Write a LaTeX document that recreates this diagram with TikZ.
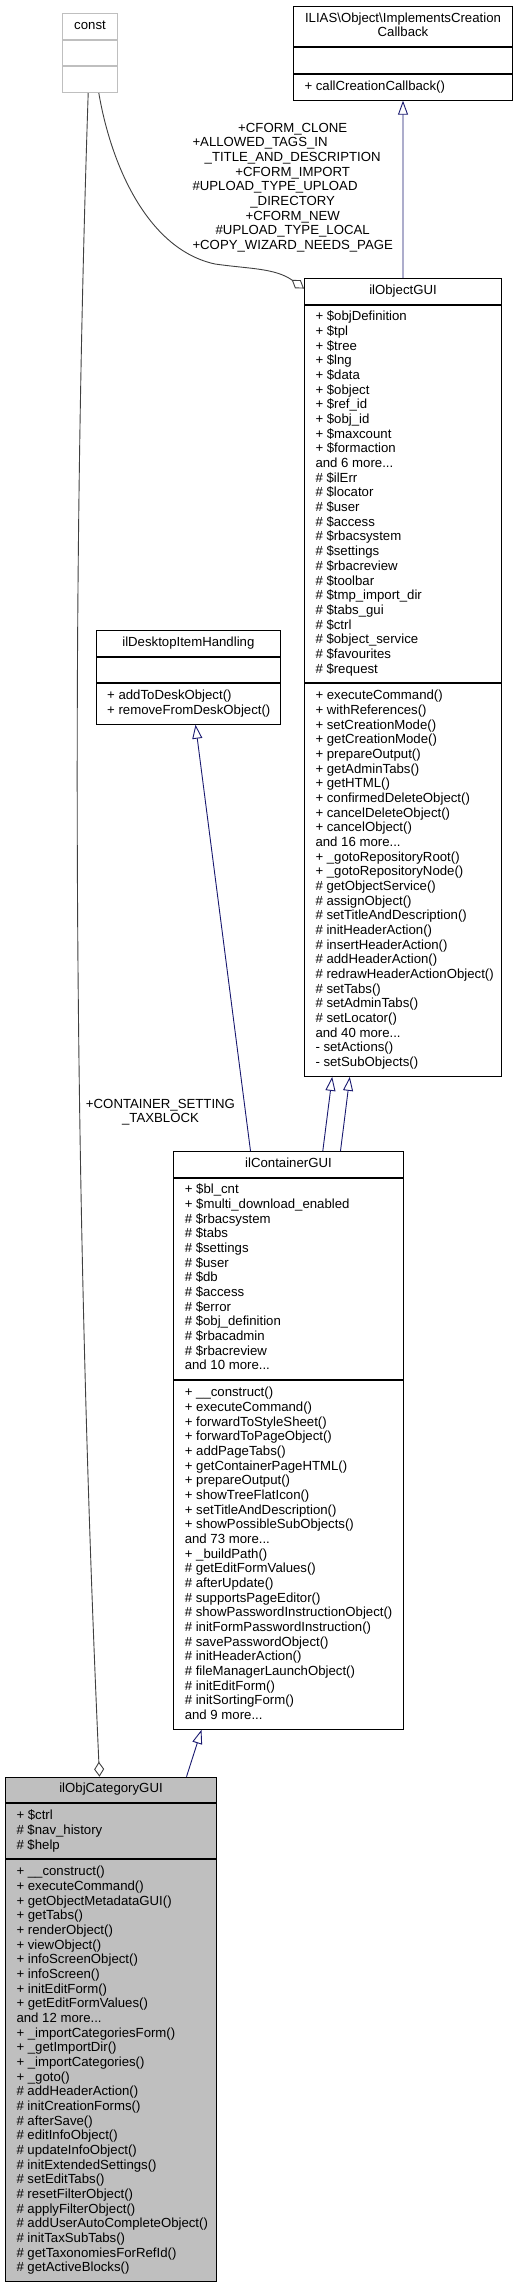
\documentclass[tikz,border=0pt]{standalone}
\usepackage{fontspec}
\setmainfont{Liberation Sans}
\usetikzlibrary{arrows.meta}
\definecolor{navy}{RGB}{25,25,112}
\definecolor{edgegray}{RGB}{64,64,64}
\definecolor{lightg}{RGB}{191,191,191}
\newcommand\lst[2]{\makebox[#1][l]{\begin{tabular}{@{}l@{}}#2\end{tabular}}}
\newcommand\ttl[1]{\begin{tabular}{@{}c@{}}#1\end{tabular}}
\tikzset{
  cls/.style={draw=black, line width=1bp, fill=white, rectangle, inner sep=0pt, anchor=north west},
  inh/.style={draw=navy, line width=0.9bp, -{Triangle[open,length=14bp,width=10bp]}},
  agg/.style={draw=edgegray, line width=0.9bp, -{Diamond[open,length=15bp,width=10bp]}},
  lbl/.style={inner sep=0pt}
}
\begin{document}
\begin{tikzpicture}[x=1bp, y=-1bp, font=\fontsize{13.2bp}{14.67bp}\selectfont]
\fill[white] (0,0) rectangle (517,2284);
\useasboundingbox (0,0) rectangle (517,2284);

% const
\node[cls, draw=lightg, minimum width=55bp, minimum height=25.67bp] (constT) at (62,13) {\ttl{const}};
\node[cls, draw=lightg, minimum width=55bp, minimum height=25.67bp] (constA) at (constT.south west) {};
\node[cls, draw=lightg, minimum width=55bp, minimum height=25.67bp] (constM) at (constA.south west) {};

% ILIAS\Object\ImplementsCreationCallback
\node[cls, minimum width=219bp, minimum height=40.34bp] (iliasT) at (293,6) {\ttl{ILIAS\textbackslash Object\textbackslash ImplementsCreation\\Callback}};
\node[cls, minimum width=219bp, minimum height=25.67bp] (iliasA) at (iliasT.south west) {};
\node[cls, minimum width=219bp, minimum height=25.67bp] (iliasM) at (iliasA.south west) {\lst{197bp}{+ callCreationCallback()}};

% ilObjectGUI
\node[cls, minimum width=197bp, minimum height=25.67bp] (objT) at (304,278) {\ttl{ilObjectGUI}};
\node[cls, minimum width=197bp, minimum height=377.75bp] (objA) at (objT.south west) {\lst{175bp}{%
+ \$objDefinition\\
+ \$tpl\\
+ \$tree\\
+ \$lng\\
+ \$data\\
+ \$object\\
+ \$ref\_id\\
+ \$obj\_id\\
+ \$maxcount\\
+ \$formaction\\
and 6 more...\\
\# \$ilErr\\
\# \$locator\\
\# \$user\\
\# \$access\\
\# \$rbacsystem\\
\# \$settings\\
\# \$rbacreview\\
\# \$toolbar\\
\# \$tmp\_import\_dir\\
\# \$tabs\_gui\\
\# \$ctrl\\
\# \$object\_service\\
\# \$favourites\\
\# \$request}};
\node[cls, minimum width=197bp, minimum height=392.42bp] (objM) at (objA.south west) {\lst{175bp}{%
+ executeCommand()\\
+ withReferences()\\
+ setCreationMode()\\
+ getCreationMode()\\
+ prepareOutput()\\
+ getAdminTabs()\\
+ getHTML()\\
+ confirmedDeleteObject()\\
+ cancelDeleteObject()\\
+ cancelObject()\\
and 16 more...\\
+ \_gotoRepositoryRoot()\\
+ \_gotoRepositoryNode()\\
\# getObjectService()\\
\# assignObject()\\
\# setTitleAndDescription()\\
\# initHeaderAction()\\
\# insertHeaderAction()\\
\# addHeaderAction()\\
\# redrawHeaderActionObject()\\
\# setTabs()\\
\# setAdminTabs()\\
\# setLocator()\\
and 40 more...\\
- setActions()\\
- setSubObjects()}};

% ilDesktopItemHandling
\node[cls, minimum width=184.3bp, minimum height=25.67bp] (deskT) at (95.7,630) {\ttl{ilDesktopItemHandling}};
\node[cls, minimum width=184.3bp, minimum height=25.67bp] (deskA) at (deskT.south west) {};
\node[cls, minimum width=184.3bp, minimum height=40.34bp] (deskM) at (deskA.south west) {\lst{162.3bp}{%
+ addToDeskObject()\\
+ removeFromDeskObject()}};

% ilContainerGUI
\node[cls, minimum width=229.4bp, minimum height=25.67bp] (contT) at (173.3,1151) {\ttl{ilContainerGUI}};
\node[cls, minimum width=229.4bp, minimum height=201.71bp] (contA) at (contT.south west) {\lst{207.4bp}{%
+ \$bl\_cnt\\
+ \$multi\_download\_enabled\\
\# \$rbacsystem\\
\# \$tabs\\
\# \$settings\\
\# \$user\\
\# \$db\\
\# \$access\\
\# \$error\\
\# \$obj\_definition\\
\# \$rbacadmin\\
\# \$rbacreview\\
and 10 more...}};
\node[cls, minimum width=229.4bp, minimum height=348.41bp] (contM) at (contA.south west) {\lst{207.4bp}{%
+ \_\_construct()\\
+ executeCommand()\\
+ forwardToStyleSheet()\\
+ forwardToPageObject()\\
+ addPageTabs()\\
+ getContainerPageHTML()\\
+ prepareOutput()\\
+ showTreeFlatIcon()\\
+ setTitleAndDescription()\\
+ showPossibleSubObjects()\\
and 73 more...\\
+ \_buildPath()\\
\# getEditFormValues()\\
\# afterUpdate()\\
\# supportsPageEditor()\\
\# showPasswordInstructionObject()\\
\# initFormPasswordInstruction()\\
\# savePasswordObject()\\
\# initHeaderAction()\\
\# fileManagerLaunchObject()\\
\# initEditForm()\\
\# initSortingForm()\\
and 9 more...}};

% ilObjCategoryGUI
\node[cls, fill=lightg, minimum width=211bp, minimum height=25.67bp] (catT) at (5,1776.7) {\ttl{ilObjCategoryGUI}};
\node[cls, fill=lightg, minimum width=211bp, minimum height=55.01bp] (catA) at (catT.south west) {\lst{189bp}{%
+ \$ctrl\\
\# \$nav\_history\\
\# \$help}};
\node[cls, fill=lightg, minimum width=211bp, minimum height=421.76bp] (catM) at (catA.south west) {\lst{189bp}{%
+ \_\_construct()\\
+ executeCommand()\\
+ getObjectMetadataGUI()\\
+ getTabs()\\
+ renderObject()\\
+ viewObject()\\
+ infoScreenObject()\\
+ infoScreen()\\
+ initEditForm()\\
+ getEditFormValues()\\
and 12 more...\\
+ \_importCategoriesForm()\\
+ \_getImportDir()\\
+ \_importCategories()\\
+ \_goto()\\
\# addHeaderAction()\\
\# initCreationForms()\\
\# afterSave()\\
\# editInfoObject()\\
\# updateInfoObject()\\
\# initExtendedSettings()\\
\# setEditTabs()\\
\# resetFilterObject()\\
\# applyFilterObject()\\
\# addUserAutoCompleteObject()\\
\# initTaxSubTabs()\\
\# getTaxonomiesForRefId()\\
\# getActiveBlocks()}};

% edge labels
\node[lbl, anchor=north west] (lblObj) at (192.3,121.6) {\begin{tabular}{@{}c@{}}%
+CFORM\_CLONE\\
\multicolumn{1}{@{}l@{}}{+ALLOWED\_TAGS\_IN}\\
\_TITLE\_AND\_DESCRIPTION\\
+CFORM\_IMPORT\\
\multicolumn{1}{@{}l@{}}{\#UPLOAD\_TYPE\_UPLOAD}\\
\_DIRECTORY\\
+CFORM\_NEW\\
\#UPLOAD\_TYPE\_LOCAL\\
+COPY\_WIZARD\_NEEDS\_PAGE\end{tabular}};
\node[lbl, anchor=north] (lblCat) at (160.5,1097.6) {\begin{tabular}{@{}c@{}}+CONTAINER\_SETTING\\\_TAXBLOCK\end{tabular}};

% connectors
\draw[inh] (objT.north) -- (iliasM.south);
\draw[inh] ([xshift=-38bp]contT.north) -- ([xshift=7.15bp]deskM.south);
\draw[inh] ([xshift=34.3bp]contT.north) -- ([xshift=-70.8bp]objM.south);
\draw[inh] ([xshift=52bp]contT.north) -- ([xshift=-53.2bp]objM.south);
\draw[inh] ([xshift=75.5bp]catT.north) -- ([xshift=-87bp]contM.south);
\draw[agg] ([xshift=-1.8bp]constM.south) .. controls (68,700) and (78,1300) .. ([xshift=-11.5bp]catT.north);
\draw[agg] ([xshift=8.8bp]constM.south) .. controls (112,170) and (150,250) .. (215,264) .. controls (250,269) and (275,268) .. ([yshift=2.8bp]objT.west);
\end{tikzpicture}
\end{document}
